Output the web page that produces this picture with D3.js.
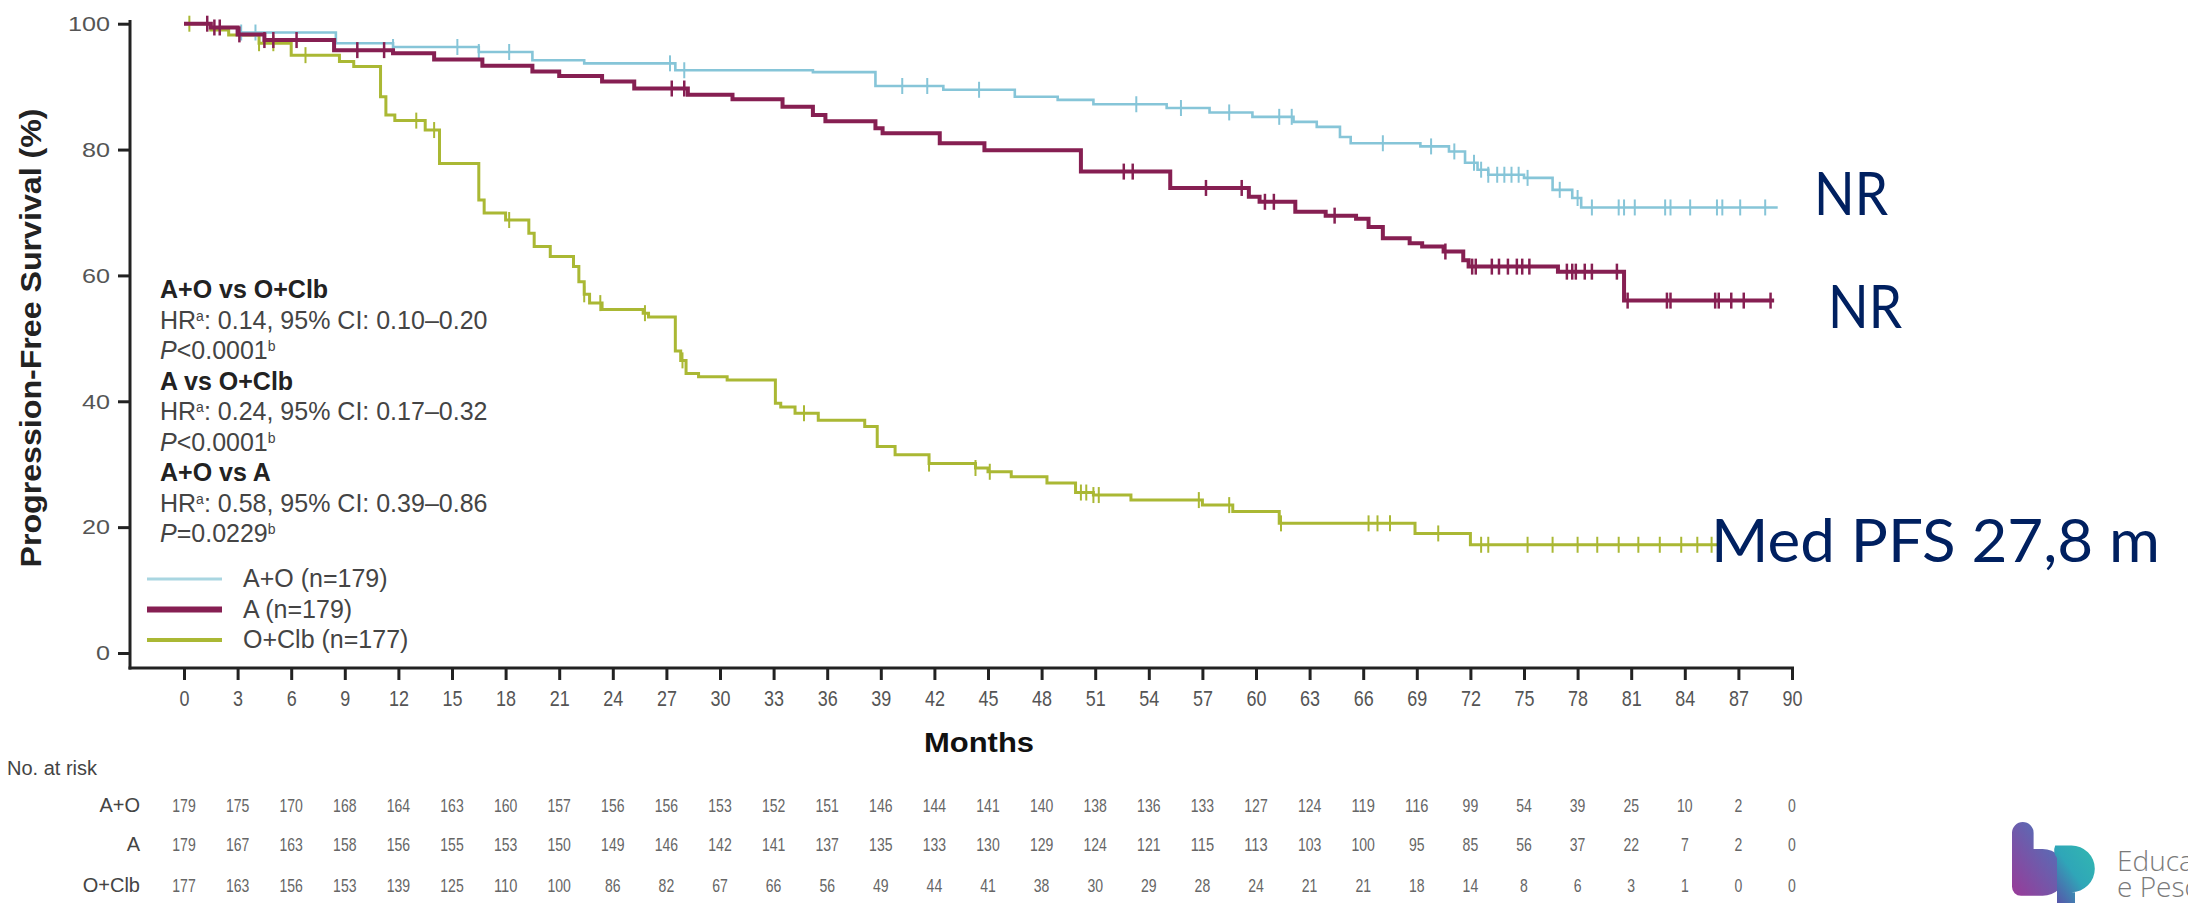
<!DOCTYPE html>
<html><head><meta charset="utf-8">
<script src="https://cdn.jsdelivr.net/npm/d3@7"></script>
<style>body{margin:0;background:#fff;overflow:hidden} svg{display:block}</style>
</head><body>
<svg id="c" width="2188" height="903"></svg>
<script>
// ---------------- DATA ----------------
const months = d3.range(0, 91, 3);
const yTicks = [0, 20, 40, 60, 80, 100];
const seriesNames = ["A+O", "A", "O+Clb"];
const legendLabels = ["A+O (n=179)", "A (n=179)", "O+Clb (n=177)"];
const seriesColors = ["#86c5d8", "#861f52", "#aab834"];

// Kaplan-Meier steps: [month, PFS %]
const aoSteps = [[0,100],[1.5,99.4],[3,98.6],[8.5,96.9],[11.7,96.3],[16.5,95.5],[19.5,94.2],[22.4,93.7],[27.5,92.6],[35.2,92.3],[38.7,90.1],[42.5,89.5],[46.5,88.4],[48.9,87.9],[50.9,87.2],[55,86.6],[57.4,85.9],[59.8,85.2],[62.1,84.4],[63.4,83.6],[64.7,82.0],[65.3,81.0],[69.2,80.5],[70.8,79.7],[71.7,77.9],[72.4,76.8],[73,76.0],[75,75.5],[76.6,73.6],[77.7,72.3],[78.2,70.8],[89.2,70.8]];
const aSteps = [[0,100],[1.5,99.4],[3,98.3],[4.5,97.4],[8.4,95.8],[11.7,95.3],[14,94.3],[16.7,93.3],[19.5,92.4],[21,91.7],[23.4,90.8],[25.2,89.7],[28.2,88.7],[30.7,88.0],[33.5,86.8],[35.2,85.5],[35.9,84.5],[38.7,83.4],[39.1,82.6],[42.3,81.0],[44.8,79.9],[50.2,76.5],[55.2,73.9],[59.6,72.5],[60.2,71.7],[62.2,70.1],[63.9,69.5],[65.6,69.0],[66.3,67.7],[67.1,65.9],[68.6,65.1],[69.3,64.6],[70.5,63.8],[71.6,62.4],[71.9,61.4],[76.9,60.6],[80.6,56.0],[89.0,56.0]];
const ocSteps = [[0,100],[1.5,99],[2.5,98.2],[4.2,96.9],[6,95.0],[8.7,94.0],[9.5,93.2],[11,88.4],[11.3,85.5],[11.8,84.6],[13.5,83.1],[14.3,77.8],[16.5,72],[16.8,69.9],[18,68.8],[19.3,66.7],[19.6,64.6],[20.5,63.0],[21.8,61.4],[22.1,59],[22.4,57],[22.7,55.6],[23.4,54.6],[25.7,54.0],[26.0,53.4],[27.5,48],[27.8,46.5],[28.1,44.4],[28.8,43.9],[30.4,43.4],[33.1,39.7],[33.4,39.1],[34.2,38.1],[35.5,37.0],[38.1,36.0],[38.8,32.8],[39.8,31.5],[41.7,30.1],[44.3,29.4],[45,28.8],[46.3,28.0],[48.3,27.0],[49.9,25.5],[50.9,25.1],[53,24.3],[57,23.5],[58.7,22.5],[61.3,20.6],[68.9,19.0],[72,17.2],[86,17.2]];

// censoring times (months)
const aoCensor = [3.2,4.0,11.7,15.3,16.5,18.2,27.2,28,40.2,41.6,44.5,53.3,55.8,58.5,61.3,62,67.1,69.8,71.1,72.2,72.6,73.0,73.5,73.9,74.3,74.7,75.2,77,78,78.8,80.3,80.6,81.2,82.9,83.2,84.3,85.8,86.1,87.1,88.5];
const aCensor = [1.3,1.7,2.0,3.1,4.5,5.0,6.3,9.7,11.2,27.3,28.0,52.6,53.1,57.2,59.2,60.5,61.0,64.4,70.6,72.1,72.3,73.2,73.6,74.1,74.6,74.9,75.3,77.4,77.7,77.9,78.4,78.8,80.2,80.8,83.0,83.2,85.7,85.9,86.6,87.3,88.8];
const ocCensor = [0.3,4.2,5.0,6.8,13.0,14.0,18.2,22.4,23.3,25.8,27.9,34.7,41.7,44.3,45.1,50.2,50.5,50.9,51.2,56.8,58.5,61.4,66.3,66.8,67.5,70.2,72.6,73.0,75.2,76.6,78,79.1,80.3,81.4,82.6,83.8,84.7,85.5];

// numbers at risk (months 0..90 step 3)
const riskAO = [179,175,170,168,164,163,160,157,156,156,153,152,151,146,144,141,140,138,136,133,127,124,119,116,99,54,39,25,10,2,0];
const riskA  = [179,167,163,158,156,155,153,150,149,146,142,141,137,135,133,130,129,124,121,115,113,103,100,95,85,56,37,22,7,2,0];
const riskOC = [177,163,156,153,139,125,110,100,86,82,67,66,56,49,44,41,38,30,29,28,24,21,21,18,14,8,6,3,1,0,0];

const statTitles = ["A+O vs O+Clb", "A vs O+Clb", "A+O vs A"];
const statHR = ["0.14, 95% CI: 0.10\u20130.20", "0.24, 95% CI: 0.17\u20130.32", "0.58, 95% CI: 0.39\u20130.86"];
const statP = ["<0.0001", "<0.0001", "=0.0229"];
const sideNotes = ["NR", "NR", "Med PFS 27,8 m"];

// ---------------- DRAW ----------------
const svg = d3.select("#c");
const FONT = "'Liberation Sans', Arial, sans-serif";
const x = d3.scaleLinear().domain([0, 90]).range([184, 1792]);
const y = d3.scaleLinear().domain([0, 100]).range([653, 23.7]);

const steps = [aoSteps, aSteps, ocSteps];
const censors = [aoCensor, aCensor, ocCensor];
const risks = [riskAO, riskA, riskOC];
const widths = [2.6, 4, 3];

// axes
const yAxis = d3.axisLeft(y).tickValues(yTicks).tickSize(12).tickPadding(8);
const gy = svg.append("g").attr("transform", "translate(130,0)").call(yAxis);
gy.select(".domain").remove();
gy.selectAll(".tick line").attr("stroke", "#222").attr("stroke-width", 3);
gy.selectAll(".tick text").attr("font-family", FONT).attr("font-size", 21).attr("fill", "#555")
  .attr("textLength", d => String(d).length * 14).attr("lengthAdjust", "spacingAndGlyphs");
svg.append("line").attr("x1", 130).attr("x2", 130).attr("y1", 20).attr("y2", 669.5).attr("stroke", "#222").attr("stroke-width", 3);

const xAxis = d3.axisBottom(x).tickValues(months).tickSize(12).tickPadding(10);
const gx = svg.append("g").attr("transform", "translate(0,668)").call(xAxis);
gx.select(".domain").remove();
gx.selectAll(".tick line").attr("stroke", "#222").attr("stroke-width", 3);
gx.selectAll(".tick text").attr("font-family", FONT).attr("font-size", 22).attr("fill", "#555")
  .attr("textLength", d => String(d).length * 10).attr("lengthAdjust", "spacingAndGlyphs");
svg.append("line").attr("x1", 128.5).attr("x2", 1794).attr("y1", 668).attr("y2", 668).attr("stroke", "#222").attr("stroke-width", 3);

// axis titles
svg.append("text").attr("transform", "translate(41,338) rotate(-90)").attr("text-anchor", "middle")
  .attr("font-family", FONT).attr("font-weight", "bold").attr("font-size", 29).attr("fill", "#222")
  .attr("textLength", 459).attr("lengthAdjust", "spacingAndGlyphs")
  .text("Progression-Free Survival (%)");
svg.append("text").attr("x", 979).attr("y", 752).attr("text-anchor", "middle")
  .attr("font-family", FONT).attr("font-weight", "bold").attr("font-size", 28).attr("fill", "#111")
  .attr("textLength", 110).attr("lengthAdjust", "spacingAndGlyphs")
  .text("Months");

// curves
const line = d3.line().x(d => x(d[0])).y(d => y(d[1])).curve(d3.curveStepAfter);
function survAt(st, t) { let s = st[0][1]; for (const p of st) if (p[0] <= t) s = p[1]; return s; }
[2, 0, 1].forEach(i => {
  const g = svg.append("g");
  g.append("path").datum(steps[i]).attr("d", line).attr("fill", "none")
    .attr("stroke", seriesColors[i]).attr("stroke-width", widths[i]);
  g.selectAll("line.c").data(censors[i]).enter().append("line")
    .attr("x1", d => x(d)).attr("x2", d => x(d))
    .attr("y1", d => y(survAt(steps[i], d)) - 8).attr("y2", d => y(survAt(steps[i], d)) + 8)
    .attr("stroke", seriesColors[i]).attr("stroke-width", i === 1 ? 2.5 : 2);
});

// stats block
const sb = svg.append("g").attr("font-family", FONT).attr("font-size", 25);
statTitles.forEach((t, k) => {
  const b = 298 + k * 3 * 30.5;
  sb.append("text").attr("x", 160).attr("y", b).attr("font-weight", "bold").attr("fill", "#222").text(t);
  const hr = sb.append("text").attr("x", 160).attr("y", b + 30.5).attr("fill", "#444");
  hr.append("tspan").text("HR");
  hr.append("tspan").attr("font-size", 14).attr("baseline-shift", "super").text("a");
  hr.append("tspan").text(": " + statHR[k]);
  const p = sb.append("text").attr("x", 160).attr("y", b + 61).attr("fill", "#444");
  p.append("tspan").attr("font-style", "italic").text("P");
  p.append("tspan").text(statP[k]);
  p.append("tspan").attr("font-size", 14).attr("baseline-shift", "super").text("b");
});

// legend
const lg = svg.append("g");
legendLabels.forEach((t, i) => {
  const ly = 579 + i * 30.5;
  lg.append("line").attr("x1", 147).attr("x2", 222).attr("y1", ly).attr("y2", ly)
    .attr("stroke", i === 0 ? "#a9d6e1" : seriesColors[i]).attr("stroke-width", [3, 6, 4][i]);
  lg.append("text").attr("x", 243).attr("y", ly + 8).attr("font-family", FONT).attr("font-size", 25)
    .attr("fill", "#444").text(t);
});

// risk table
svg.append("text").attr("x", 7).attr("y", 775).attr("font-family", FONT).attr("font-size", 20)
  .attr("fill", "#444").text("No. at risk");
const rowY = [812, 851, 892];
seriesNames.forEach((nm, i) => {
  svg.append("text").attr("x", 140).attr("y", rowY[i]).attr("text-anchor", "end")
    .attr("font-family", FONT).attr("font-size", 20).attr("fill", "#444").text(nm);
  svg.append("g").selectAll("text").data(risks[i]).enter().append("text")
    .attr("x", (d, j) => x(months[j])).attr("y", rowY[i]).attr("text-anchor", "middle")
    .attr("font-family", FONT).attr("font-size", 19).attr("fill", "#666")
    .attr("textLength", d => String(d).length * 7.8).attr("lengthAdjust", "spacingAndGlyphs")
    .text(d => d);
});

// side notes
const noteX = [1814, 1828, 1711], noteY = [215, 328, 562], noteW = [74, 74, 449];
sideNotes.forEach((t, i) => {
  svg.append("text").attr("x", noteX[i]).attr("y", noteY[i]).attr("font-family", "Lato, 'Open Sans', sans-serif")
    .attr("font-size", 60).attr("fill", "#002060")
    .attr("textLength", noteW[i]).attr("lengthAdjust", "spacingAndGlyphs").text(t);
});

// logo
const defs = svg.append("defs");
const g1 = defs.append("linearGradient").attr("id", "gb").attr("x1", 0).attr("y1", 1).attr("x2", 1).attr("y2", 0);
g1.append("stop").attr("offset", 0).attr("stop-color", "#9a3a98");
g1.append("stop").attr("offset", 1).attr("stop-color", "#3f7fc0");
const g2 = defs.append("linearGradient").attr("id", "gp").attr("x1", 0).attr("y1", 1).attr("x2", 1).attr("y2", 0);
g2.append("stop").attr("offset", 0).attr("stop-color", "#5a4fa8");
g2.append("stop").attr("offset", 0.5).attr("stop-color", "#2fa6b8");
g2.append("stop").attr("offset", 1).attr("stop-color", "#32b8b0");
const logo = svg.append("g").attr("transform", "translate(2012,822) scale(0.9)");
logo.append("path").attr("fill", "url(#gb)")
  .attr("d", "M0,12 a12,12 0 0 1 24,0 V30 H34 a26,26 0 0 1 0,52 H10 a10,10 0 0 1 -10,-10 Z");
logo.append("path").attr("fill", "url(#gp)")
  .attr("d", "M48,26 H66 a26,26 0 0 1 0,52 H70 V90 H50 V40 a14,14 0 0 1 -2,-14 Z");
svg.append("text").attr("x", 2117).attr("y", 871).attr("font-family", "'Open Sans', sans-serif").attr("font-weight", 300)
  .attr("font-size", 28).attr("fill", "#7a7a7a").text("Educação");
svg.append("text").attr("x", 2117).attr("y", 897).attr("font-family", "'Open Sans', sans-serif").attr("font-weight", 300)
  .attr("font-size", 28).attr("fill", "#7a7a7a").text("e Pesquisa");
</script>
</body></html>
